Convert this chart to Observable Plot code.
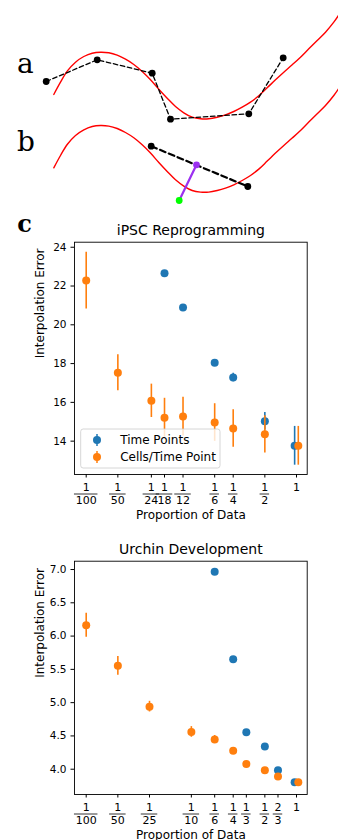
<!DOCTYPE html>
<html>
<head>
<meta charset="utf-8">
<script src="https://cdn.jsdelivr.net/npm/d3@7"></script>
<script src="https://cdn.jsdelivr.net/npm/@observablehq/plot@0.6"></script>
<style>
html, body { margin: 0; padding: 0; overflow: hidden; background: #fff; width: 338px; height: 840px; }
#root svg { display: block; overflow: visible; }
</style>
</head>
<body>
<div id="root"></div>
<script>
// ---------- Schematic (panels a, b) ----------
const curveA = [[53.3,94],[60,81.7],[66.7,70.7],[75,61.7],[83.3,56],[91.7,52.7],[100,51.7],[108.3,52.3],[116.7,54.7],[125,58.7],[133.3,64],[141.7,71],[150,79.3],[158.3,88.7],[166.7,97.7],[175,106],[183.3,112.3],[191.7,116.7],[200,118.3],[208.3,118.3],[216.7,116.7],[225,114.3],[233.3,111],[241.7,106.7],[250,101.7],[258.3,95.3],[266.7,87.3],[275,79.3],[283.3,71.7],[291.7,64.3],[300,56.7],[308.3,48.3],[316.7,40],[325,31.7],[333.3,21.7],[338,15]];
const curveB = [[53.3,167.3],[60,155],[66.7,144],[75,135],[83.3,129.3],[91.7,126],[100,125],[108.3,125.6],[116.7,128],[125,132],[133.3,137.3],[141.7,144.3],[150,152.6],[158.3,162],[166.7,171],[175,179.3],[183.3,185.6],[191.7,190],[200,191.6],[208.3,191.6],[216.7,190],[225,187.6],[233.3,184.3],[241.7,180],[250,175],[258.3,168.6],[266.7,160.6],[275,152.6],[283.3,145],[291.7,137.6],[300,130],[308.3,121.6],[316.7,113.3],[325,105],[333.3,95],[338,88.3]];
const samplesA = [[45.7,81],[96.7,59.3],[151.7,72.7],[170,118.7],[248.3,113.3],[282.7,57.3]];
const samplesB = [[150.7,145.7],[247.3,186]];
const projected = [196,164.3];
const query = [178.7,200];

// ---------- iPSC Reprogramming ----------
const ipscTicks = [1/100, 1/50, 1/24, 1/18, 1/12, 1/6, 1/4, 1/2, 1];
const ipscNum = ["1","1","1","1","1","1","1","1","1"];
const ipscDen = ["100","50","24","18","12","6","4","2",""];
const ipscYTicks = [14, 16, 18, 20, 22, 24];
const ipscTimeX = [1/18, 1/12, 1/6, 1/4, 1/2, 0.96];
const ipscTimeY = [22.66, 20.89, 18.04, 17.28, 15.03, 13.76];
const ipscTimeErr = [0.05, 0.05, 0.08, 0.22, 0.45, 1.0];
const ipscCellsX = [1/100, 1/50, 1/24, 1/18, 1/12, 1/6, 1/4, 1/2, 1.04];
const ipscCellsY = [22.28, 17.53, 16.08, 15.21, 15.27, 14.96, 14.65, 14.35, 13.76];
const ipscCellsErr = [1.46, 0.93, 0.86, 1.0, 1.0, 0.97, 0.97, 0.96, 1.0];

// ---------- Urchin Development ----------
const urchinTicks = [1/100, 1/50, 1/25, 1/10, 1/6, 1/4, 1/3, 1/2, 2/3, 1];
const urchinNum = ["1","1","1","1","1","1","1","1","2","1"];
const urchinDen = ["100","50","25","10","6","4","3","2","3",""];
const urchinYTicks = [4.0, 4.5, 5.0, 5.5, 6.0, 6.5, 7.0];
const urchinTimeX = [1/6, 1/4, 1/3, 1/2, 2/3, 0.96];
const urchinTimeY = [6.965, 5.653, 4.556, 4.341, 3.985, 3.805];
const urchinTimeErr = [0.01, 0.01, 0.01, 0.01, 0.01, 0.01];
const urchinCellsX = [1/100, 1/50, 1/25, 1/10, 1/6, 1/4, 1/3, 1/2, 2/3, 1.04];
const urchinCellsY = [6.163, 5.553, 4.94, 4.56, 4.446, 4.276, 4.08, 3.985, 3.89, 3.805];
const urchinCellsErr = [0.18, 0.14, 0.08, 0.08, 0.06, 0.02, 0.02, 0.02, 0.02, 0.02];

const seriesNames = ["Time Points", "Cells/Time Point"];
const BLUE = "#1f77b4", ORANGE = "#ff7f0e";

const root = document.getElementById("root");
const pts = a => a.map(([x, y]) => ({x, y}));

// Schematic
root.append(Plot.plot({
  width: 338, height: 210,
  marginTop: 0, marginRight: 0, marginBottom: 0, marginLeft: 0,
  x: {domain: [0, 338], axis: null},
  y: {domain: [0, 210], range: [0, 210], axis: null},
  style: {background: "white"},
  marks: [
    Plot.line(pts(curveA), {x: "x", y: "y", stroke: "#ff0000", strokeWidth: 1.4, curve: "catmull-rom"}),
    Plot.line(pts(curveB), {x: "x", y: "y", stroke: "#ff0000", strokeWidth: 1.4, curve: "catmull-rom"}),
    Plot.line(pts(samplesA), {x: "x", y: "y", stroke: "black", strokeWidth: 1.3, strokeDasharray: "4.5,2.7"}),
    Plot.dot(pts(samplesA), {x: "x", y: "y", r: 3.4, fill: "black"}),
    Plot.line(pts(samplesB), {x: "x", y: "y", stroke: "black", strokeWidth: 2.2, strokeDasharray: "6,3.5"}),
    Plot.line(pts([query, projected]), {x: "x", y: "y", stroke: "#9b30f0", strokeWidth: 2.2}),
    Plot.dot(pts(samplesB), {x: "x", y: "y", r: 3.4, fill: "black"}),
    Plot.dot(pts([projected]), {x: "x", y: "y", r: 3.4, fill: "#9b30f0"}),
    Plot.dot(pts([query]), {x: "x", y: "y", r: 3.4, fill: "#00ff00"}),
    Plot.text(["a"], {frameAnchor: "top-left", dx: 16.5, dy: 72.3, lineAnchor: "bottom", textAnchor: "start", fontSize: 28, fontFamily: "DejaVu Serif", fill: "black"}),
    Plot.text(["b"], {frameAnchor: "top-left", dx: 16.5, dy: 150.7, lineAnchor: "bottom", textAnchor: "start", fontSize: 28, fontFamily: "DejaVu Serif", fill: "black"})
  ]
}));

function table(xs, ys, es) { return xs.map((x, i) => ({x, y: ys[i], e: es[i]})); }

function fractionBars(ticks, dens, fontSize, offset) {
  return (index, scales, values, dimensions) => {
    const g = d3.create("svg:g").attr("stroke", "black").attr("stroke-width", 0.8);
    const yb = dimensions.height - dimensions.marginBottom + offset;
    ticks.forEach((t, i) => {
      if (!dens[i]) return;
      const w = dens[i].length * 0.636 * fontSize + 2.5;
      const cx = scales.x(t);
      g.append("line").attr("x1", cx - w / 2).attr("x2", cx + w / 2).attr("y1", yb).attr("y2", yb);
    });
    return g.node();
  };
}

function legendMark() {
  return (index, scales, values, dimensions) => {
    const x0 = dimensions.marginLeft + 6.7;
    const yb = dimensions.height - dimensions.marginBottom - 6;
    const g = d3.create("svg:g").attr("font-family", "DejaVu Sans").attr("font-size", 12).attr("text-anchor", "start");
    g.append("rect").attr("x", x0).attr("y", yb - 39).attr("width", 139.3).attr("height", 39)
      .attr("rx", 2.5).attr("fill", "white").attr("fill-opacity", 0.8).attr("stroke", "#cccccc").attr("stroke-width", 0.8);
    [BLUE, ORANGE].forEach((c, i) => {
      const cy = yb - 28 + i * 17;
      const cx = x0 + 16.3;
      g.append("line").attr("x1", cx).attr("x2", cx).attr("y1", cy - 6).attr("y2", cy + 6).attr("stroke", c).attr("stroke-width", 1.5);
      g.append("circle").attr("cx", cx).attr("cy", cy).attr("r", 4).attr("fill", c);
      g.append("text").attr("x", x0 + 39.5).attr("y", cy).attr("dy", "0.35em").attr("text-anchor", "start").attr("fill", "black").text(seriesNames[i]);
    });
    return g.node();
  };
}

function panel({height, marginTop, marginBottom, yDomain, yTicks, yFormat, ticks, nums, dens, time, cells, title, letter, legend}) {
  const tickTable = ticks.map((v, i) => ({v, num: nums[i], den: dens[i]}));
  return Plot.plot({
    width: 338, height,
    marginLeft: 74, marginRight: 31.3, marginTop, marginBottom,
    x: {type: "log", domain: [0.00774, 1.264]},
    y: {domain: yDomain},
    style: {fontFamily: "DejaVu Sans", fontSize: "10.5px", color: "black", background: "white"},
    marks: [
      Plot.ruleX(time, {x: "x", y1: d => d.y - d.e, y2: d => d.y + d.e, stroke: BLUE, strokeWidth: 1.6}),
      Plot.dot(time, {x: "x", y: "y", r: 4, fill: BLUE}),
      Plot.ruleX(cells, {x: "x", y1: d => d.y - d.e, y2: d => d.y + d.e, stroke: ORANGE, strokeWidth: 1.6}),
      Plot.dot(cells, {x: "x", y: "y", r: 4, fill: ORANGE}),
      ...(legend ? [legendMark()] : []),
      Plot.frame({stroke: "black", strokeWidth: 0.9}),
      Plot.axisY(yTicks, {tickSize: 3.5, tickPadding: 4.5, tickFormat: yFormat, label: null, fontSize: 10.5}),
      Plot.axisX(ticks, {tickSize: 3.5, tickFormat: () => "", label: null}),
      Plot.text(tickTable, {x: "v", text: "num", frameAnchor: "bottom", dy: 16.7, lineAnchor: "bottom", fontSize: 11}),
      Plot.text(tickTable, {x: "v", text: "den", frameAnchor: "bottom", dy: 29.5, lineAnchor: "bottom", fontSize: 11}),
      fractionBars(ticks, dens, 11, 20),
      Plot.text([title], {frameAnchor: "top", dy: -7.7, lineAnchor: "bottom", fontSize: 14}),
      Plot.text(["Interpolation Error"], {frameAnchor: "left", dx: -34.7, rotate: -90, fontSize: 12}),
      Plot.text(["Proportion of Data"], {frameAnchor: "bottom", dy: 44, lineAnchor: "bottom", fontSize: 12}),
      ...(letter ? [Plot.text([letter], {frameAnchor: "top-left", dx: -57.3, dy: -10.7, lineAnchor: "bottom", textAnchor: "start", fontSize: 24, fontWeight: "bold", fontFamily: "DejaVu Serif"})] : [])
    ]
  });
}

root.append(panel({
  height: 320, marginTop: 31.7, marginBottom: 56,
  yDomain: [12.28, 24.26], yTicks: ipscYTicks, yFormat: d3.format("d"),
  ticks: ipscTicks, nums: ipscNum, dens: ipscDen,
  time: table(ipscTimeX, ipscTimeY, ipscTimeErr),
  cells: table(ipscCellsX, ipscCellsY, ipscCellsErr),
  title: "iPSC Reprogramming", letter: "c", legend: true
}));

root.append(panel({
  height: 310, marginTop: 30.7, marginBottom: 46,
  yDomain: [3.62, 7.125], yTicks: urchinYTicks, yFormat: d3.format(".1f"),
  ticks: urchinTicks, nums: urchinNum, dens: urchinDen,
  time: table(urchinTimeX, urchinTimeY, urchinTimeErr),
  cells: table(urchinCellsX, urchinCellsY, urchinCellsErr),
  title: "Urchin Development", letter: null, legend: false
}));
</script>
</body>
</html>
